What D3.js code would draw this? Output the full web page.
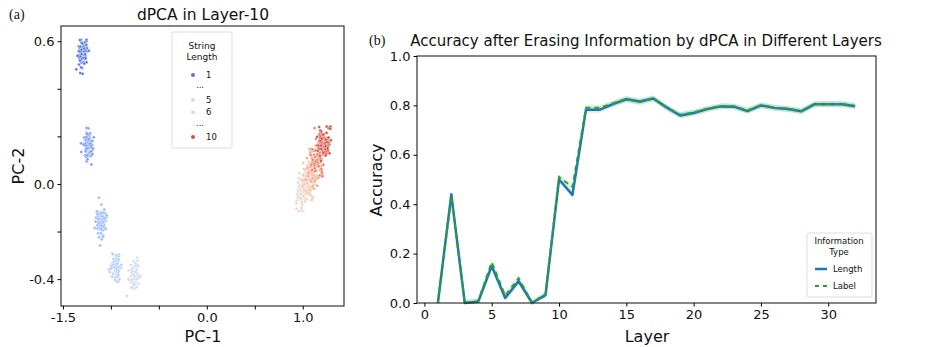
<!DOCTYPE html>
<html>
<head>
<meta charset="utf-8">
<script src="https://cdn.jsdelivr.net/npm/d3@7"></script>
<style>
  body { margin: 0; background: #fff; }
  text { font-family: "DejaVu Sans", sans-serif; fill: #111; }
  .serif { font-family: "Liberation Serif", "Times New Roman", serif; }
</style>
</head>
<body>
<svg id="chart" width="926" height="347"></svg>
<script>
// ---- panel (a): dPCA clusters, one per string length ----
const lengths = [1, 2, 3, 4, 5, 6, 7, 8, 9, 10];
const clusterX = [-1.30, -1.24, -1.11, -0.95, -0.76, 0.99, 1.06, 1.12, 1.17, 1.22];
const clusterY = [0.554, 0.159, -0.161, -0.342, -0.392, -0.04, 0.02, 0.07, 0.12, 0.17];
const clusterSdX = [0.028, 0.030, 0.028, 0.026, 0.026, 0.030, 0.035, 0.035, 0.035, 0.035];
const clusterSdY = [0.030, 0.032, 0.030, 0.030, 0.032, 0.035, 0.035, 0.035, 0.035, 0.035];
const pointsPerCluster = 80;
const legendLabels = ['1', '...', '5', '6', '...', '10'];
const legendColorIdx = [0, null, 4, 5, null, 9];
const pcaXTicks = [-1.5, -1.0, -0.5, 0.0, 0.5, 1.0];
const pcaXTickLabels = ['-1.5', '', '', '0.0', '', '1.0'];
const pcaYTicks = [-0.4, -0.2, 0.0, 0.2, 0.4, 0.6];
const pcaYTickLabels = ['-0.4', '', '0.0', '', '', '0.6'];

// cool-warm diverging colour table (Moreland), sampled evenly 0..1
const coolwarmStops = [
  '#3b4cc0', '#445acc', '#4d68d7', '#5775e1', '#6282ea', '#6c8ef1', '#779af7', '#82a5fb',
  '#8db0fe', '#98b9ff', '#a3c2ff', '#aec9fd', '#b8d0f9', '#c2d5f4', '#ccd9ee', '#d5dbe6',
  '#dddddd', '#e5d8d1', '#ecd3c5', '#f1ccb8', '#f5c4ac', '#f7bb9f', '#f7b193', '#f7a686',
  '#f49a7b', '#f18d6f', '#ec7f63', '#e57058', '#de604d', '#d55042', '#cb3e38', '#c0282f',
  '#b40426'];

// ---- panel (b): accuracy per layer ----
const layers = d3.range(1, 33);
const accLength = [0.0, 0.44, 0.0, 0.005, 0.15, 0.02, 0.088, 0.0, 0.032, 0.50, 0.438, 0.782,
  0.782, 0.805, 0.825, 0.816, 0.828, 0.792, 0.759, 0.769, 0.785, 0.796, 0.795, 0.777,
  0.80, 0.79, 0.785, 0.776, 0.805, 0.805, 0.805, 0.797];
const accLabel = [0.0, 0.43, 0.0, 0.008, 0.165, 0.03, 0.10, 0.0, 0.036, 0.51, 0.47, 0.79,
  0.79, 0.808, 0.826, 0.814, 0.829, 0.79, 0.762, 0.771, 0.786, 0.797, 0.796, 0.779,
  0.80, 0.791, 0.786, 0.777, 0.806, 0.806, 0.806, 0.798];
const bandHalf = 0.012;
const accXTicks = [0, 5, 10, 15, 20, 25, 30];
const accYTicks = [0, 0.2, 0.4, 0.6, 0.8, 1.0];

const svg = d3.select('#chart');

const coolwarm = d3.scaleLinear()
  .domain(d3.range(coolwarmStops.length).map(i => i / (coolwarmStops.length - 1)))
  .range(coolwarmStops);
// seaborn-style palette: skip the two extreme ends of the map
const colorOf = i => coolwarm((i + 1) / (lengths.length + 1));

// ================= panel (a) =================
const a = { left: 61, right: 344, top: 26, bottom: 306 };
const xA = d3.scaleLinear().domain([-1.52, 1.43]).range([a.left, a.right]);
const yA = d3.scaleLinear().domain([-0.513, 0.664]).range([a.bottom, a.top]);

const gA = svg.append('g');
const rng = d3.randomLcg(0.4217);
const pts = [];
lengths.forEach((len, i) => {
  const nx = d3.randomNormal.source(rng)(clusterX[i], clusterSdX[i]);
  const ny = d3.randomNormal.source(rng)(clusterY[i], clusterSdY[i]);
  for (let k = 0; k < pointsPerCluster; k++) pts.push({ i, x: nx(), y: ny() });
});
gA.append('g').selectAll('circle').data(pts).join('circle')
  .attr('cx', d => xA(d.x))
  .attr('cy', d => yA(d.y))
  .attr('r', 1.5)
  .attr('fill', d => colorOf(d.i))
  .attr('stroke', '#fff')
  .attr('stroke-width', 0.4);

gA.append('rect')
  .attr('x', a.left).attr('y', a.top)
  .attr('width', a.right - a.left).attr('height', a.bottom - a.top)
  .attr('fill', 'none').attr('stroke', '#222').attr('stroke-width', 1.1);

gA.append('g')
  .attr('transform', `translate(0,${a.bottom})`)
  .call(d3.axisBottom(xA).tickValues(pcaXTicks).tickSize(3.5)
    .tickFormat((d, i) => pcaXTickLabels[i]))
  .call(g => g.select('.domain').remove())
  .call(g => g.selectAll('text').attr('font-size', 13)
    .style('font-family', '"DejaVu Sans", sans-serif'));

gA.append('g')
  .attr('transform', `translate(${a.left},0)`)
  .call(d3.axisLeft(yA).tickValues(pcaYTicks).tickSize(3.5)
    .tickFormat((d, i) => pcaYTickLabels[i]))
  .call(g => g.select('.domain').remove())
  .call(g => g.selectAll('text').attr('font-size', 13)
    .style('font-family', '"DejaVu Sans", sans-serif'));

gA.append('text').attr('x', 203).attr('y', 20).attr('text-anchor', 'middle')
  .attr('font-size', 15.5).text('dPCA in Layer-10');
gA.append('text').attr('x', 203).attr('y', 342).attr('text-anchor', 'middle')
  .attr('font-size', 16).text('PC-1');
gA.append('text').attr('transform', 'translate(24,166) rotate(-90)')
  .attr('text-anchor', 'middle').attr('font-size', 16).text('PC-2');
gA.append('text').attr('class', 'serif').attr('x', 9).attr('y', 19)
  .attr('font-size', 14).text('(a)');

// legend (a)
const legA = gA.append('g');
legA.append('rect').attr('x', 172).attr('y', 32).attr('width', 60).attr('height', 116)
  .attr('rx', 2).attr('fill', '#fff').attr('stroke', '#ddd').attr('stroke-width', 1);
legA.append('text').attr('x', 202).attr('y', 49).attr('text-anchor', 'middle')
  .attr('font-size', 9).text('String');
legA.append('text').attr('x', 202).attr('y', 60).attr('text-anchor', 'middle')
  .attr('font-size', 9).text('Length');
const legRowY = d3.scalePoint().domain(d3.range(legendLabels.length)).range([75, 137]);
legendLabels.forEach((lab, k) => {
  const y = legRowY(k);
  if (legendColorIdx[k] !== null) {
    legA.append('circle').attr('cx', 193).attr('cy', y).attr('r', 2)
      .attr('fill', colorOf(legendColorIdx[k]));
    legA.append('text').attr('x', 206).attr('y', y + 3).attr('font-size', 8.5).text(lab);
  } else {
    legA.append('text').attr('x', 200).attr('y', y + 1).attr('text-anchor', 'middle')
      .attr('font-size', 8.5).text(lab);
  }
});

// ================= panel (b) =================
const b = { left: 417, right: 876, top: 56, bottom: 303 };
const xB = d3.scaleLinear().domain([-0.55, 33.55]).range([b.left, b.right]);
const yB = d3.scaleLinear().domain([0, 1]).range([b.bottom, b.top]);
const gB = svg.append('g');

const band = d3.area().x((d, i) => xB(layers[i]))
  .y0(d => yB(Math.max(0, d - bandHalf))).y1(d => yB(d + bandHalf));
const line = d3.line().x((d, i) => xB(layers[i])).y(d => yB(d));

gB.append('path').datum(accLength).attr('d', band).attr('fill', '#1f77b4').attr('opacity', 0.15);
gB.append('path').datum(accLabel).attr('d', band).attr('fill', '#2ca02c').attr('opacity', 0.15);
gB.append('path').datum(accLength).attr('d', line).attr('fill', 'none')
  .attr('stroke', '#1f77b4').attr('stroke-width', 2.5).attr('stroke-linejoin', 'round');
gB.append('path').datum(accLabel).attr('d', line).attr('fill', 'none')
  .attr('stroke', '#2ca02c').attr('stroke-width', 2).attr('stroke-dasharray', '5,4');

gB.append('rect')
  .attr('x', b.left).attr('y', b.top)
  .attr('width', b.right - b.left).attr('height', b.bottom - b.top)
  .attr('fill', 'none').attr('stroke', '#222').attr('stroke-width', 1.1);

gB.append('g')
  .attr('transform', `translate(0,${b.bottom})`)
  .call(d3.axisBottom(xB).tickValues(accXTicks).tickSize(3.5).tickFormat(d3.format('d')))
  .call(g => g.select('.domain').remove())
  .call(g => g.selectAll('text').attr('font-size', 13)
    .style('font-family', '"DejaVu Sans", sans-serif'));

gB.append('g')
  .attr('transform', `translate(${b.left},0)`)
  .call(d3.axisLeft(yB).tickValues(accYTicks).tickSize(3.5).tickFormat(d3.format('.1f')))
  .call(g => g.select('.domain').remove())
  .call(g => g.selectAll('text').attr('font-size', 13)
    .style('font-family', '"DejaVu Sans", sans-serif'));

gB.append('text').attr('x', 646).attr('y', 46).attr('text-anchor', 'middle')
  .attr('font-size', 15).text('Accuracy after Erasing Information by dPCA in Different Layers');
gB.append('text').attr('x', 647).attr('y', 342).attr('text-anchor', 'middle')
  .attr('font-size', 16).text('Layer');
gB.append('text').attr('transform', 'translate(382,180) rotate(-90)')
  .attr('text-anchor', 'middle').attr('font-size', 16).text('Accuracy');
gB.append('text').attr('class', 'serif').attr('x', 369).attr('y', 45)
  .attr('font-size', 14).text('(b)');

// legend (b)
const legB = gB.append('g');
legB.append('rect').attr('x', 807).attr('y', 233).attr('width', 65).attr('height', 64)
  .attr('rx', 2).attr('fill', '#fff').attr('stroke', '#ddd').attr('stroke-width', 1);
legB.append('text').attr('x', 839).attr('y', 244).attr('text-anchor', 'middle')
  .attr('font-size', 8.5).text('Information');
legB.append('text').attr('x', 839).attr('y', 255).attr('text-anchor', 'middle')
  .attr('font-size', 8.5).text('Type');
legB.append('line').attr('x1', 815).attr('x2', 827).attr('y1', 269).attr('y2', 269)
  .attr('stroke', '#1f77b4').attr('stroke-width', 2.5);
legB.append('text').attr('x', 833).attr('y', 272).attr('font-size', 8.5).text('Length');
legB.append('line').attr('x1', 815).attr('x2', 828).attr('y1', 286).attr('y2', 286)
  .attr('stroke', '#2ca02c').attr('stroke-width', 2).attr('stroke-dasharray', '4,4');
legB.append('text').attr('x', 833).attr('y', 289).attr('font-size', 8.5).text('Label');
</script>
</body>
</html>
